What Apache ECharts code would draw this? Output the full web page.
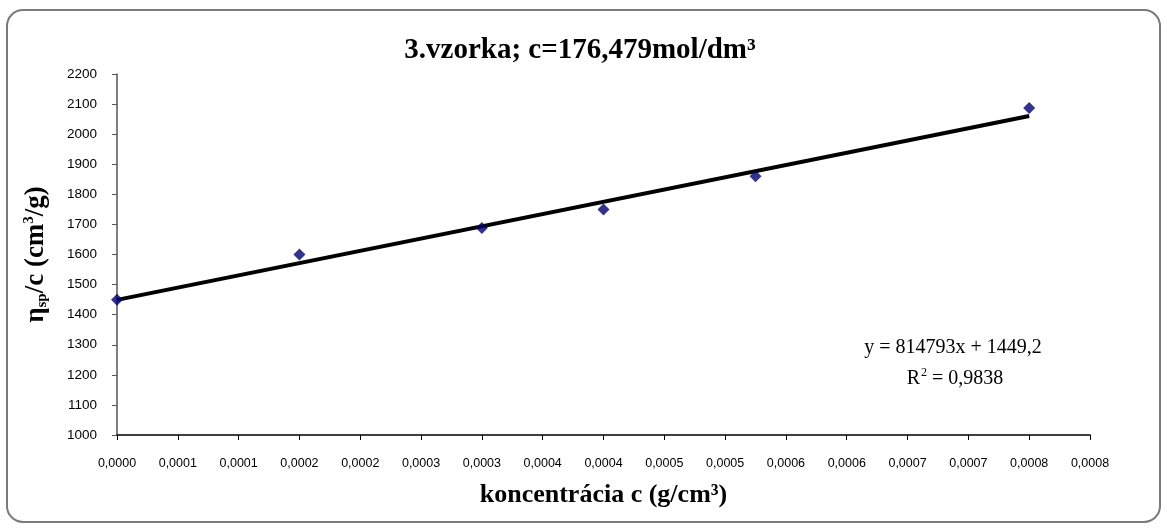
<!DOCTYPE html>
<html>
<head>
<meta charset="utf-8">
<script src="https://cdn.jsdelivr.net/npm/echarts@6/dist/echarts.min.js"></script>
<style>
html, body { margin: 0; padding: 0; background: #fff; }
#chart { width: 1167px; height: 530px; }
</style>
</head>
<body>
<div id="chart"></div>
<script>
// namerane body
var concentration = [0, 0.00015, 0.0003, 0.0004, 0.000525, 0.00075];
var viscosity = [1450, 1600, 1688, 1750, 1860, 2087];

// popisky osi x (Excel ich zaokruhlil na 4 miesta)
var xTickLabels = ['0,0000', '0,0001', '0,0001', '0,0002', '0,0002', '0,0003', '0,0003', '0,0004', '0,0004',
    '0,0005', '0,0005', '0,0006', '0,0006', '0,0007', '0,0007', '0,0008', '0,0008'];
var xStep = 0.00005;

// trendova ciara z rovnice v grafe
var trendSlope = 814793;
var trendIntercept = 1449.2;
var trendEq = 'y = 814793x + 1449,2';
var trendR2 = '0,9838';

var trendLine = [
    [0, trendIntercept],
    [concentration[concentration.length - 1], trendSlope * concentration[concentration.length - 1] + trendIntercept]
];

var serif = 'Liberation Serif, Times New Roman, serif';
var sans = 'Liberation Sans, Arial, sans-serif';

var myChart = echarts.init(document.getElementById('chart'));
var option = {
    backgroundColor: '#fff',
    animation: false,
    title: {
        text: '3.vzorka; c=176,479mol/dm³',
        left: 575,
        textAlign: 'center',
        top: 31,
        textStyle: { fontFamily: serif, fontWeight: 'bold', fontSize: 29, color: '#000' }
    },
    grid: { left: 117, right: 77, top: 74, bottom: 95 },
    xAxis: {
        type: 'value',
        min: 0,
        max: 0.0008,
        interval: xStep,
        name: 'koncentrácia c (g/cm³)',
        nameLocation: 'middle',
        nameGap: 47,
        nameTextStyle: { fontFamily: serif, fontWeight: 'bold', fontSize: 26, color: '#000' },
        axisLine: { lineStyle: { color: '#000', width: 1.5 } },
        axisTick: { inside: false, length: 5, lineStyle: { color: '#000' } },
        splitLine: { show: false },
        axisLabel: {
            fontFamily: sans,
            fontSize: 12.5,
            color: '#000',
            margin: 22,
            formatter: function (v) {
                return xTickLabels[Math.round(v / xStep)];
            }
        }
    },
    yAxis: {
        type: 'value',
        min: 1000,
        max: 2200,
        interval: 100,
        name: '{b|η}{sub|sp}{b|/c (cm}{sup|3}{b|/g)}',
        nameLocation: 'middle',
        nameRotate: 90,
        nameGap: 64,
        nameTextStyle: {
            rich: {
                b: { fontFamily: serif, fontWeight: 'bold', fontSize: 27, color: '#000', lineHeight: 34, verticalAlign: 'middle' },
                sub: { fontFamily: serif, fontWeight: 'bold', fontSize: 15, color: '#000', lineHeight: 34, verticalAlign: 'bottom', padding: [0, 0, 3, 0] },
                sup: { fontFamily: serif, fontWeight: 'bold', fontSize: 15, color: '#000', lineHeight: 34, verticalAlign: 'top', padding: [3, 0, 0, 0] }
            }
        },
        axisLine: { show: true, lineStyle: { color: '#555', width: 1.5 } },
        axisTick: { show: true, inside: false, length: 5, lineStyle: { color: '#555' } },
        splitLine: { show: false },
        axisLabel: {
            fontFamily: sans,
            fontSize: 13.5,
            color: '#000',
            margin: 20,
            formatter: function (v) { return String(v); }
        }
    },
    series: [
        {
            name: 'trend',
            type: 'line',
            data: trendLine,
            symbol: 'none',
            lineStyle: { color: '#000', width: 4 },
            z: 2
        },
        {
            name: 'body',
            type: 'scatter',
            data: concentration.map(function (c, i) { return [c, viscosity[i]]; }),
            symbol: 'diamond',
            symbolSize: 12,
            itemStyle: { color: '#000070' },
            z: 3
        }
    ],
    graphic: [
        {
            type: 'rect',
            shape: { x: 7, y: 10, width: 1153, height: 512, r: 16 },
            style: { fill: 'none', stroke: '#7a7a7a', lineWidth: 2 },
            z: -1
        },
        {
            type: 'text',
            x: 953,
            y: 348,
            style: {
                text: trendEq,
                font: '20px ' + serif,
                fill: '#000',
                textAlign: 'center',
                textVerticalAlign: 'middle'
            }
        },
        {
            type: 'text',
            x: 955,
            y: 379,
            style: {
                text: '{n|R}{s|2}{n| = ' + trendR2 + '}',
                textAlign: 'center',
                textVerticalAlign: 'middle',
                rich: {
                    n: { fontFamily: serif, fontSize: 20, color: '#000', lineHeight: 24, verticalAlign: 'middle' },
                    s: { fontFamily: serif, fontSize: 12, color: '#000', lineHeight: 24, verticalAlign: 'top', padding: [0, 0, 0, 1] }
                }
            }
        }
    ]
};
myChart.setOption(option);
</script>
</body>
</html>
